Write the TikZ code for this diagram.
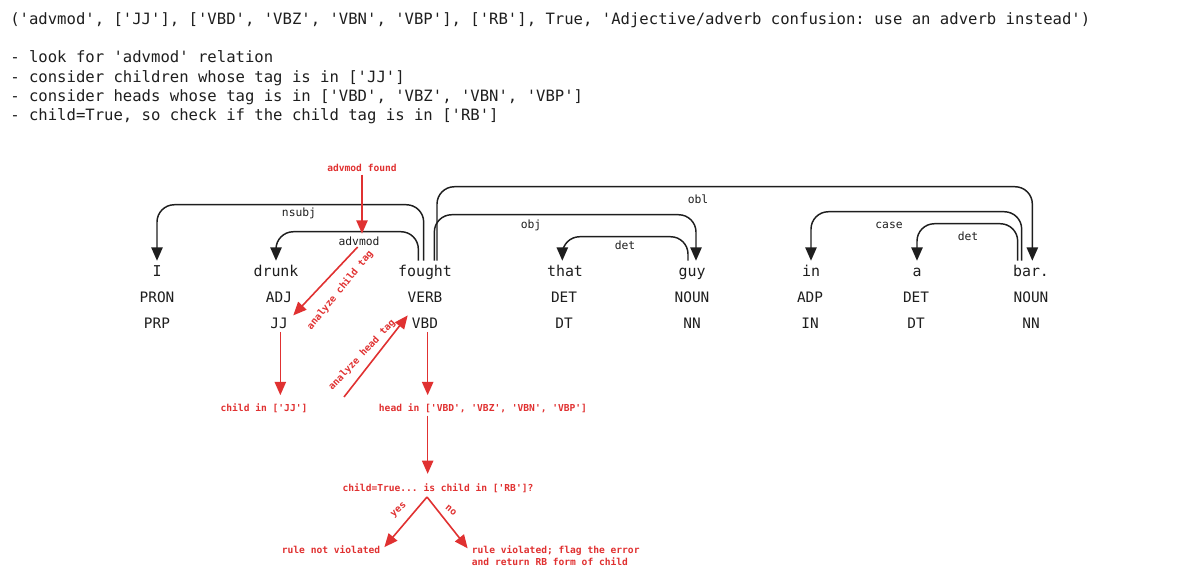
\documentclass[tikz,border=0pt]{standalone}
\usepackage{fontspec}
\setmonofont{DejaVu Sans Mono}
\usepackage{xcolor}
\usepackage{tikz}
\usetikzlibrary{arrows.meta, positioning, calc}
\definecolor{depred}{RGB}{224,49,49}
\definecolor{depblack}{RGB}{30,30,30}

\begin{document}
\begin{tikzpicture}[x=0.75pt, y=-0.75pt,
  header/.style={anchor=base west, inner sep=0pt, text=depblack,
                 font=\fontsize{11.7}{14}\ttfamily},
  word/.style={anchor=base, inner sep=2pt, text height=10pt, text depth=0pt,
               text=depblack, font=\fontsize{11.2}{13}\ttfamily},
  tag/.style={anchor=base, inner sep=2pt, text height=8pt, text depth=0pt,
              text=depblack, font=\fontsize{10.8}{13}\ttfamily},
  arclabel/.style={text=depblack, inner sep=1pt, font=\fontsize{8.5}{10}\ttfamily},
  redlabel/.style={text=depred, inner sep=2pt, align=left,
                   font=\fontsize{7.2}{9}\ttfamily\bfseries},
  deparc/.style={draw=depblack, line width=1.1pt, rounded corners=13pt,
                 -{Triangle[width=8.5pt, length=10pt]}},
  redarrow/.style={draw=depred, line width=1.2pt,
                   -{Triangle[width=8.5pt, length=10pt]}}]
\useasboundingbox (0,0) rectangle (1193,577);

%% HEADER – rule tuple and the steps it implies
\node[header] (rule) at (10,25)
  {('advmod', ['JJ'], ['VBD', 'VBZ', 'VBN', 'VBP'], ['RB'], True, 'Adjective/adverb confusion: use an adverb instead')};
\node[header] (step1) at (10,63) {- look for 'advmod' relation};
\node[header] (step2) at (10,83) {- consider children whose tag is in ['JJ']};
\node[header] (step3) at (10,102) {- consider heads whose tag is in ['VBD', 'VBZ', 'VBN', 'VBP']};
\node[header] (step4) at (10,121) {- child=True, so check if the child tag is in ['RB']};

%% SENTENCE – words, UPOS and XPOS tags
\node[word] (wI)      at (157,277)  {I};
\node[word] (wdrunk)  at (276,277)  {drunk};
\node[word] (wfought) at (425,277)  {fought};
\node[word] (wthat)   at (565,277)  {that};
\node[word] (wguy)    at (692,277)  {guy};
\node[word] (win)     at (811,277)  {in};
\node[word] (wa)      at (917,277)  {a};
\node[word] (wbar)    at (1031,277) {bar.};

\node[tag] (uI)      at (157,303)  {PRON};
\node[tag] (udrunk)  at (279,303)  {ADJ};
\node[tag] (ufought) at (425,303)  {VERB};
\node[tag] (uthat)   at (564,303)  {DET};
\node[tag] (uguy)    at (692,303)  {NOUN};
\node[tag] (uin)     at (810,303)  {ADP};
\node[tag] (ua)      at (916,303)  {DET};
\node[tag] (ubar)    at (1031,303) {NOUN};

\node[tag] (tI)      at (157,329)  {PRP};
\node[tag] (tJJ)     at (279,329)  {JJ};
\node[tag] (tVBD)    at (425,329)  {VBD};
\node[tag] (tthat)   at (564,329)  {DT};
\node[tag] (tguy)    at (692,329)  {NN};
\node[tag] (tin)     at (810,329)  {IN};
\node[tag] (ta)      at (916,329)  {DT};
\node[tag] (tbar)    at (1031,329) {NN};

%% DEPENDENCY ARCS
\draw[deparc] ([xshift=-1pt]wfought.north) -- ++(0,-56) -| (wI.north);
\draw[deparc] ([xshift=-5pt]wfought.north) -- ++(0,-29) -| (wdrunk.north);
\draw[deparc] ([xshift=7pt]wfought.north)  -- ++(0,-46) -| ([xshift=3pt]wguy.north);
\draw[deparc] ([xshift=9pt]wfought.north)  -- ++(0,-74) -| ([xshift=1pt]wbar.north);
\draw[deparc] ([xshift=-3pt]wguy.north)    -- ++(0,-24) -| ([xshift=-2pt]wthat.north);
\draw[deparc] ([xshift=-7pt]wbar.north)    -- ++(0,-49) -| (win.north);
\draw[deparc] ([xshift=-10pt]wbar.north)   -- ++(0,-37) -| (wa.north);

\node[arclabel] (lnsubj)  at (299,213) {nsubj};
\node[arclabel] (ladvmod) at (359,241) {advmod};
\node[arclabel] (lobj)    at (531,225) {obj};
\node[arclabel] (ldet)    at (625,245) {det};
\node[arclabel] (lobl)    at (698,199) {obl};
\node[arclabel] (lcase)   at (889,225) {case};
\node[arclabel] (ldetb)   at (968,236) {det};

%% RULE CHECK – red annotations
\node[redlabel] (found) at (362,168) {advmod found};
\draw[redarrow] (found.south) -- ([yshift=1pt]found.south |- ladvmod.north);

\draw[redarrow] ([xshift=-1pt]ladvmod.south) -- ([xshift=2pt]tJJ.north east);
\node[redlabel, rotate=51] (childtag) at (340,290) {analyze child tag};

\coordinate (headtail) at (344,397);
\draw[redarrow] (headtail) -- ([xshift=-1pt]tVBD.north west);
\node[redlabel, rotate=47] (headtag) at (362,355) {analyze head tag};

\node[redlabel] (childin) at (264,408) {child in ['JJ']};
\node[redlabel] (headin)  at (483,408) {head in ['VBD', 'VBZ', 'VBN', 'VBP']};
\draw[redarrow] ([xshift=1pt]tJJ.south) -- ([xshift=1pt,yshift=4pt]tJJ.south |- childin.north);
\draw[redarrow] ([xshift=2pt]tVBD.south) -- ([xshift=2pt,yshift=4pt]tVBD.south |- headin.north);

\node[redlabel] (question) at (438,488) {child=True...\ is child in ['RB']?};
\draw[redarrow] ([xshift=2pt]tVBD.south |- headin.south)
  -- ([xshift=2pt,yshift=5pt]tVBD.south |- question.north);

\coordinate (split) at (427,497);
\node[redlabel] (notviol) at (331,550) {rule not violated};
\node[redlabel, anchor=north west] (viol) at (469,543)
  {rule violated; flag the error\\and return RB form of child};
\draw[redarrow] (split) -- ([xshift=1pt,yshift=-3pt]notviol.north east);
\draw[redarrow] (split) -- ([xshift=-1pt,yshift=-4pt]viol.north west);
\node[redlabel, rotate=42] (yes) at (399,510) {yes};
\node[redlabel, rotate=-40] (no) at (451,510) {no};
\end{tikzpicture}
\end{document}
